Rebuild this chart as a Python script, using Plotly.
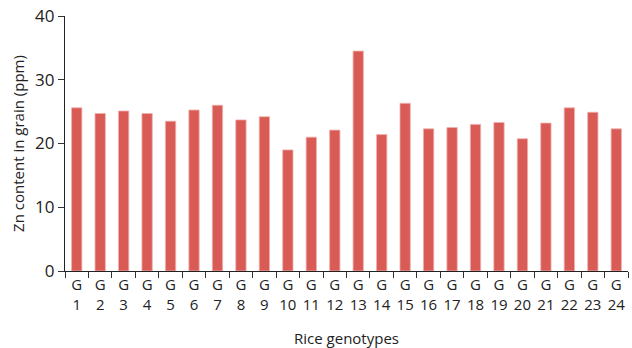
import plotly.graph_objects as go

genotypes = [f"G{i}" for i in range(1, 25)]
tick_labels = [f"G<br>{i}" for i in range(1, 25)]
zn_values = [25.6, 24.7, 25.1, 24.7, 23.5, 25.25, 26.0, 23.7, 24.2, 19.0, 21.0, 22.1,
             34.5, 21.4, 26.3, 22.3, 22.5, 23.0, 23.3, 20.75, 23.2, 25.6, 24.9, 22.3]
y_ticks = [0, 10, 20, 30, 40]

font_family = "Open Sans, Noto Sans, sans-serif"

fig = go.Figure(go.Bar(
    x=genotypes, y=zn_values,
    marker=dict(color="#d95b56", line=dict(color="#f0b0ad", width=0.8)),
    width=0.44,
))

fig.update_layout(
    width=632, height=348,
    margin=dict(l=65, r=4, t=16, b=77),
    plot_bgcolor="white", paper_bgcolor="white",
    showlegend=False,
    font=dict(family=font_family, color="#222"),
)
fig.update_xaxes(
    tickmode="array", tickvals=genotypes, ticktext=tick_labels,
    tickson="boundaries", ticks="outside", ticklen=6, tickcolor="#333",
    tickangle=0,
    showline=True, linecolor="#222", linewidth=1.2,
    tickfont=dict(size=15, color="#222"),
    title=dict(text="Rice genotypes", font=dict(size=15, color="#222"), standoff=20),
    showgrid=False, range=[-0.5, 23.5],
)
fig.update_yaxes(
    range=[0, 40], tickvals=y_ticks,
    ticks="outside", ticklen=6, tickcolor="#333",
    showline=True, linecolor="#222", linewidth=1.2,
    tickfont=dict(size=17, color="#222"),
    title=dict(text="Zn content in grain (ppm)", font=dict(size=15, color="#222"), standoff=6),
    showgrid=False, zeroline=False,
)

fig.write_html("out.html")
